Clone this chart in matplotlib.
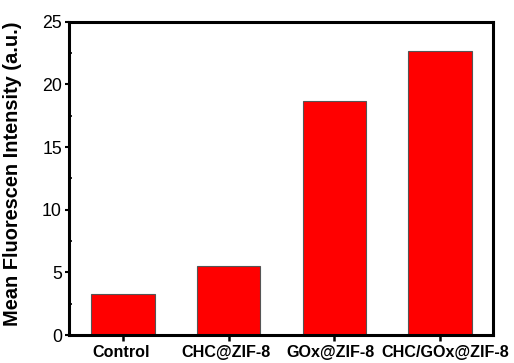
import matplotlib
matplotlib.use("Agg")
import matplotlib.pyplot as plt
import matplotlib.transforms as mtransforms
from matplotlib.ticker import MultipleLocator

categories = ["Control", "CHC@ZIF-8", "GOx@ZIF-8", "CHC/GOx@ZIF-8"]
intensity = [3.3, 5.5, 18.7, 22.7]
y_ticks = [0, 5, 10, 15, 20, 25]

plt.rcParams["font.family"] = ["Liberation Sans", "DejaVu Sans"]

fig = plt.figure(figsize=(5.14, 3.63), dpi=100)
ax = fig.add_axes([0.134, 0.077, 0.825, 0.863])

x = list(range(1, len(categories) + 1))
ax.bar(x, intensity, width=0.6, color="#ff0000", edgecolor="#555555", linewidth=0.8)

ax.set_xlim(0.49, 4.5)
ax.set_ylim(0, 25)
ax.set_yticks(y_ticks)
ax.yaxis.set_minor_locator(MultipleLocator(2.5))
ax.set_xticks(x)
ax.set_xticklabels(categories, fontsize=11.6, fontweight="bold")
ax.tick_params(axis="y", labelsize=12.8, width=1.5, length=3, direction="out", pad=2)
ax.tick_params(axis="y", which="minor", width=1.2, length=2, direction="in")
ax.tick_params(axis="x", width=1.8, length=4, direction="out", pad=3)
ax.set_ylabel("Mean Fluorescen Intensity (a.u.)", fontsize=14.4, fontweight="bold")
ax.yaxis.set_label_coords(-0.11, 0.515)

# nudge the crowded category labels apart
shifts_px = [-1.5, -2.5, -4, 5]
for lab, dx in zip(ax.get_xticklabels(), shifts_px):
    lab.set_transform(lab.get_transform() + mtransforms.ScaledTranslation(dx / 100, 0, fig.dpi_scale_trans))

for s in ax.spines.values():
    s.set_linewidth(2.2)

fig.savefig("out.png", dpi=100)
